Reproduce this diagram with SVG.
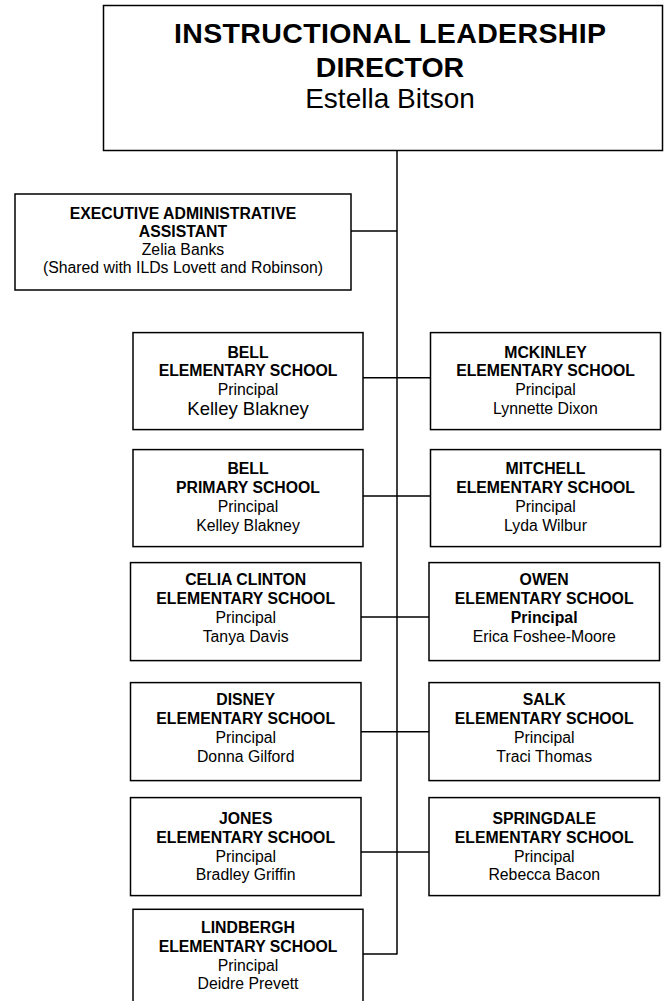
<svg xmlns="http://www.w3.org/2000/svg" width="664" height="1001" viewBox="0 0 664 1001">
<style>
.box{fill:#fff;stroke:#000;stroke-width:1.5}
.ln{stroke:#000;stroke-width:1.5;fill:none}
text{font-family:"Liberation Sans",Arial,sans-serif;fill:#000;text-anchor:middle}
.h{font-size:28.5px;font-weight:bold}
.hn{font-size:28px}
.b{font-size:15.8px;font-weight:bold}
.r{font-size:15.8px}
.rl{font-size:18.5px}
</style>
<rect width="664" height="1001" fill="#fff"/>
<g id="connectors">
<line class="ln" x1="397" y1="150" x2="397" y2="954.5"/>
<line class="ln" x1="351" y1="231" x2="397" y2="231"/>
<line class="ln" x1="363" y1="377.7" x2="430.5" y2="377.7"/>
<line class="ln" x1="363" y1="496" x2="430.5" y2="496"/>
<line class="ln" x1="361" y1="617" x2="429" y2="617"/>
<line class="ln" x1="361" y1="731.8" x2="429" y2="731.8"/>
<line class="ln" x1="361" y1="852" x2="429" y2="852"/>
<line class="ln" x1="363" y1="954" x2="397" y2="954"/>
</g>
<g id="director">
<rect class="box" x="103.5" y="5.5" width="559" height="145"/>
<text class="h" x="390" y="43.3" textLength="432" lengthAdjust="spacing">INSTRUCTIONAL LEADERSHIP</text>
<text class="h" x="390" y="77.3">DIRECTOR</text>
<text class="hn" x="390" y="108.3">Estella Bitson</text>
</g>
<g id="exec-assistant">
<rect class="box" x="15" y="194" width="336" height="96"/>
<text class="b" x="183" y="219.3">EXECUTIVE ADMINISTRATIVE</text>
<text class="b" x="183" y="237.3">ASSISTANT</text>
<text class="r" x="183" y="255.3">Zelia Banks</text>
<text class="r" x="183" y="273.3">(Shared with ILDs Lovett and Robinson)</text>
</g>
<g id="bell-elementary">
<rect class="box" x="133" y="332.6" width="230" height="97"/>
<text class="b" x="248" y="357.5">BELL</text>
<text class="b" x="248" y="376.4">ELEMENTARY SCHOOL</text>
<text class="r" x="248" y="395.4">Principal</text>
<text class="rl" x="248" y="414.7">Kelley Blakney</text>
</g>
<g id="mckinley">
<rect class="box" x="430.5" y="332.6" width="230" height="97"/>
<text class="b" x="545.5" y="357.5">MCKINLEY</text>
<text class="b" x="545.5" y="376.4">ELEMENTARY SCHOOL</text>
<text class="r" x="545.5" y="395.4">Principal</text>
<text class="r" x="545.5" y="414.4">Lynnette Dixon</text>
</g>
<g id="bell-primary">
<rect class="box" x="133" y="449.6" width="230" height="97"/>
<text class="b" x="248" y="474.4">BELL</text>
<text class="b" x="248" y="493.4">PRIMARY SCHOOL</text>
<text class="r" x="248" y="512.3">Principal</text>
<text class="r" x="248" y="531.3">Kelley Blakney</text>
</g>
<g id="mitchell">
<rect class="box" x="430.5" y="449.6" width="230" height="97"/>
<text class="b" x="545.5" y="474.4">MITCHELL</text>
<text class="b" x="545.5" y="493.4">ELEMENTARY SCHOOL</text>
<text class="r" x="545.5" y="512.3">Principal</text>
<text class="r" x="545.5" y="531.3">Lyda Wilbur</text>
</g>
<g id="celia-clinton">
<rect class="box" x="130.5" y="562.6" width="230.5" height="98"/>
<text class="b" x="245.7" y="585.3">CELIA CLINTON</text>
<text class="b" x="245.7" y="604.2">ELEMENTARY SCHOOL</text>
<text class="r" x="245.7" y="623.2">Principal</text>
<text class="r" x="245.7" y="641.8">Tanya Davis</text>
</g>
<g id="owen">
<rect class="box" x="429" y="562.6" width="230.5" height="98"/>
<text class="b" x="544.2" y="585.3">OWEN</text>
<text class="b" x="544.2" y="604.2">ELEMENTARY SCHOOL</text>
<text class="b" x="544.2" y="623.2">Principal</text>
<text class="r" x="544.2" y="641.8">Erica Foshee-Moore</text>
</g>
<g id="disney">
<rect class="box" x="130.5" y="682.6" width="230.5" height="98"/>
<text class="b" x="245.7" y="705.3">DISNEY</text>
<text class="b" x="245.7" y="724.2">ELEMENTARY SCHOOL</text>
<text class="r" x="245.7" y="743.2">Principal</text>
<text class="r" x="245.7" y="761.8">Donna Gilford</text>
</g>
<g id="salk">
<rect class="box" x="429" y="682.6" width="230.5" height="98"/>
<text class="b" x="544.2" y="705.3">SALK</text>
<text class="b" x="544.2" y="724.2">ELEMENTARY SCHOOL</text>
<text class="r" x="544.2" y="743.2">Principal</text>
<text class="r" x="544.2" y="761.8">Traci Thomas</text>
</g>
<g id="jones">
<rect class="box" x="130.5" y="797.6" width="230.5" height="98"/>
<text class="b" x="245.7" y="823.7">JONES</text>
<text class="b" x="245.7" y="842.7">ELEMENTARY SCHOOL</text>
<text class="r" x="245.7" y="861.6">Principal</text>
<text class="r" x="245.7" y="880.2">Bradley Griffin</text>
</g>
<g id="springdale">
<rect class="box" x="429" y="797.6" width="230.5" height="98"/>
<text class="b" x="544.2" y="823.7">SPRINGDALE</text>
<text class="b" x="544.2" y="842.7">ELEMENTARY SCHOOL</text>
<text class="r" x="544.2" y="861.6">Principal</text>
<text class="r" x="544.2" y="880.2">Rebecca Bacon</text>
</g>
<g id="lindbergh">
<rect class="box" x="133" y="909.3" width="230" height="100"/>
<text class="b" x="248" y="933.3">LINDBERGH</text>
<text class="b" x="248" y="952.3">ELEMENTARY SCHOOL</text>
<text class="r" x="248" y="970.7">Principal</text>
<text class="r" x="248" y="989.3">Deidre Prevett</text>
</g>
</svg>
